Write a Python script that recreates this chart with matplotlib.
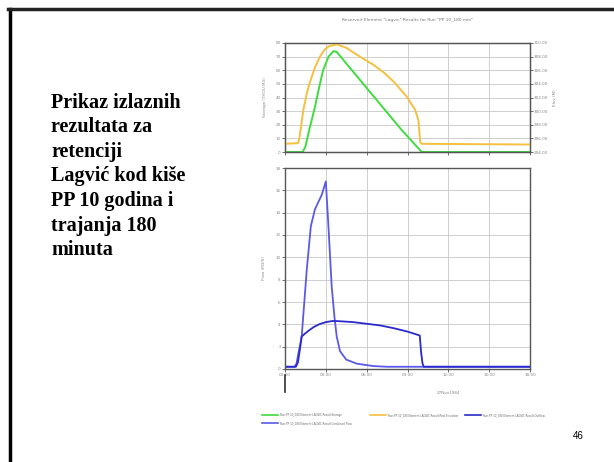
import matplotlib.pyplot as plt
from matplotlib.lines import Line2D

# slide text
slide_text = "Prikaz izlaznih\nrezultata za\nretenciji\nLagvić kod kiše\nPP 10 godina i\ntrajanja 180\nminuta"
page_no = "46"

# x axis (hours from 00:00, 27Nov1984)
hour_ticks = [0, 3, 6, 9, 12, 15, 18]
hour_labels = ["00:00", "03:00", "06:00", "09:00", "12:00", "15:00", "18:00"]

# storage (thou m3)
stor_t = [0, 1.3, 1.5, 1.8, 2.2, 2.5, 2.8, 3.2, 3.55, 3.8, 4.5, 5.5, 6.5, 7.5, 8.5, 9.5, 10.05, 18]
stor_v = [0, 0, 4, 17, 33, 47, 60, 70, 74, 73.5, 65, 53, 41, 29, 17, 6, 0, 0]

# pool elevation (m)
elev_t = [0, 0.95, 1.05, 1.2, 1.35, 1.6, 1.84, 2.2, 2.57, 2.9, 3.2, 3.8, 4.5, 5.5, 6.5, 7.3, 8.0, 8.95, 9.56, 9.8, 9.93, 10.05, 18]
elev_v = [295.2, 295.3, 296.0, 298.0, 300.2, 302.6, 304.3, 306.4, 308.0, 309.0, 309.5, 309.8, 309.3, 308.0, 306.8, 305.6, 304.3, 302.1, 300.2, 298.7, 295.5, 295.2, 295.1]

# combined inflow (m3/s)
inf_t = [0, 0.7, 0.85, 1.0, 1.22, 1.6, 1.9, 2.2, 2.7, 3.0, 3.19, 3.43, 3.63, 3.8, 4.04, 4.5, 5.27, 6.5, 7.5, 18]
inf_v = [0.2, 0.2, 0.5, 1.5, 2.8, 8.9, 12.8, 14.3, 15.6, 16.8, 12.8, 7.4, 4.7, 2.9, 1.6, 0.84, 0.48, 0.26, 0.2, 0.2]

# outflow (m3/s)
out_t = [0, 0.8, 0.95, 1.1, 1.22, 1.4, 1.7, 2.1, 2.5, 3.0, 3.5, 4.0, 5.0, 6.0, 7.0, 8.0, 9.0, 9.9, 10.0, 10.1, 10.2, 18]
out_v = [0.2, 0.2, 0.6, 1.8, 2.9, 3.1, 3.4, 3.75, 4.0, 4.2, 4.3, 4.28, 4.2, 4.05, 3.9, 3.65, 3.35, 3.0, 1.5, 0.5, 0.2, 0.2]

green = "#3fdc3f"
orange = "#f5c040"
dblue = "#2a2acc"
mblue = "#5a5ae6"
tick_c = "#888888"
run = "Run:PP 10_180 Element:LAGVIC Result:"

fig = plt.figure(figsize=(6.14, 4.62), dpi=100)

# slide frame (left and top edges)
fig.add_artist(Line2D([9.5 / 614, 9.5 / 614], [0, 1 - 9 / 462], color="black", lw=2.5))
fig.add_artist(Line2D([8 / 614, 1], [1 - 9 / 462, 1 - 9 / 462], color="#222222", lw=2.5))

fig.text(51 / 614, 1 - 93 / 462, slide_text, family="Liberation Serif", weight="bold",
         fontsize=14.5, va="top", ha="left", linespacing=1.3)
fig.text(578 / 614, 1 - 436 / 462, page_no, family="Liberation Sans", fontsize=7,
         ha="center", va="center")

def style(ax):
    ax.set_xlim(0, 18)
    ax.set_xticks(hour_ticks)
    ax.grid(True, color="#c8c8c8", lw=0.6)
    for s in ax.spines.values():
        s.set_color("#555555")
        s.set_linewidth(1.0)
    ax.tick_params(labelsize=3, colors="#555555", labelcolor=tick_c, length=2, width=0.6, pad=1)

# top: storage + elevation
ax1 = fig.add_axes([285 / 614, 1 - 152 / 462, 245 / 614, 109 / 462])
style(ax1)
ax1.set_ylim(0, 80)
ax1.set_yticks(range(0, 81, 10))
ax1.set_xticklabels([])
ax1.plot(stor_t, stor_v, color=green, lw=1.4)
ax1.set_ylabel("Storage (THOU M3)", fontsize=3, color=tick_c, labelpad=6)
ax1.set_title('Reservoir Element "Lagvic" Results for Run "PP 10_180 min"', fontsize=3.2,
              color="#777777", pad=16)

ax1r = ax1.twinx()
ax1r.set_ylim(294, 310)
ax1r.set_yticks(range(294, 311, 2))
ax1r.set_yticklabels([f"{v:.2f}" for v in range(294, 311, 2)])
ax1r.tick_params(labelsize=3, colors="#555555", labelcolor=tick_c, length=2, width=0.6, pad=1)
for s in ax1r.spines.values():
    s.set_color("#555555")
ax1r.plot(elev_t, elev_v, color=orange, lw=1.4)
ax1r.set_ylabel("Elev (M)", fontsize=3, color=tick_c, labelpad=3)

# bottom: flows
ax2 = fig.add_axes([285 / 614, 1 - 369 / 462, 245 / 614, 201 / 462])
style(ax2)
ax2.set_ylim(0, 18)
ax2.set_yticks(range(0, 19, 2))
ax2.set_xticklabels(hour_labels)
ax2.plot(inf_t, inf_v, color=mblue, lw=1.3)
ax2.plot(out_t, out_v, color=dblue, lw=1.3)
ax2.set_ylabel("Flow (M3/S)", fontsize=3, color=tick_c, labelpad=7)
fig.text(448 / 614, 1 - 393 / 462, "27Nov1984", fontsize=3, color=tick_c, ha="center", va="center")
fig.add_artist(Line2D([285 / 614, 285 / 614], [1 - 375 / 462, 1 - 392 / 462], color="#333333", lw=1.2))

# legend, one block per column
leg_kw = dict(loc="upper left", frameon=False, fontsize=1.9, handlelength=6, handletextpad=0.8,
              labelspacing=1.5, borderpad=0, labelcolor="#666666")
col1 = fig.legend([Line2D([], [], color=green, lw=1.2), Line2D([], [], color=mblue, lw=1.2)],
                  [run + "Storage", run + "Combined Flow"],
                  bbox_to_anchor=(261 / 614, 1 - 412 / 462), **leg_kw)
col2 = fig.legend([Line2D([], [], color=orange, lw=1.2)], [run + "Pool Elevation"],
                  bbox_to_anchor=(369 / 614, 1 - 412 / 462), **leg_kw)
col3 = fig.legend([Line2D([], [], color=dblue, lw=1.2)], [run + "Outflow"],
                  bbox_to_anchor=(464 / 614, 1 - 412 / 462), **leg_kw)

fig.savefig("out.png", dpi=100, facecolor="white")
